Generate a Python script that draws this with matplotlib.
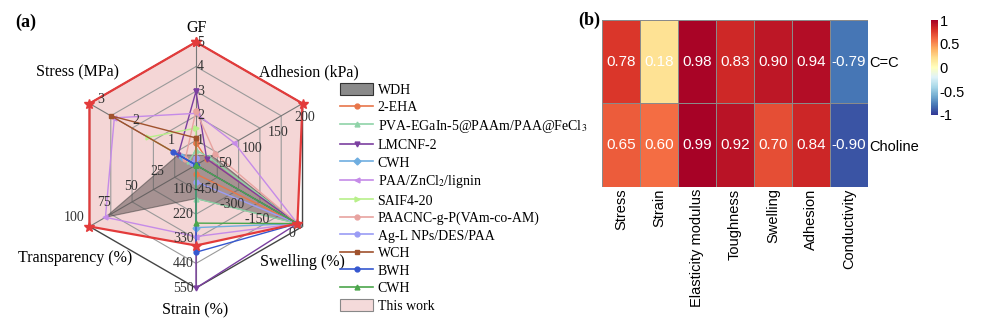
import numpy as np
import matplotlib.pyplot as plt
from matplotlib.patches import Patch
from matplotlib.lines import Line2D

plt.rcParams['mathtext.fontset'] = 'stix'
SERIF = 'Liberation Serif'
SANS = 'Liberation Sans'

# ---- radar data: GF, adhesion, swelling, strain, transparency, stress ----
axis_names = ['GF', 'Adhesion (kPa)', 'Swelling (%)', 'Strain (%)',
              'Transparency (%)', 'Stress (MPa)']
axis_angles = [90, 30, -30, -90, 210, 150]
axis_lo = [0, 0, -600, 0, 0, 0]
axis_hi = [5, 200, 30, 550, 100, 3]
axis_ticks = [[1, 2, 3, 4, 5], [50, 100, 150, 200], [-450, -300, -150, 0],
              [110, 220, 330, 440, 550], [25, 50, 75, 100], [1, 2, 3]]

wdh = [0.4, 30, 0, 150, 85, 0.5]
this_work = [5, 200, 0, 360, 100, 3]

samples = ['2-EHA', 'PVA-EGaIn-5@PAAm/PAA@FeCl$_3$', 'LMCNF-2', 'CWH',
           'PAA/ZnCl$_2$/lignin', 'SAIF4-20', 'PAACNC-g-P(VAm-co-AM)',
           'Ag-L NPs/DES/PAA', 'WCH', 'BWH', 'CWH']
sample_values = [
    [0.9, 20, 0, 40, 0, 0],
    [0.6, 25, 0, 150, 0, 0.2],
    [3.0, 20, 0, 550, 0, 0.5],
    [0, 0, 0, 280, 0, 0.4],
    [2.1, 72, 0, 320, 85, 2.3],
    [1.5, 0, 0, 0, 0, 1.35],
    [2.2, 36, 0, 0, 0, 0.3],
    [0.3, 0, 0, 75, 0, 0.1],
    [1.1, 0, 0, 0, 0, 2.4],
    [0, 0, 0, 390, 0, 0.64],
    [0, 0, 0, 260, 0, 0],
]
sample_colors = ['#E8764A', '#8FD3A8', '#7B3FA0', '#6FAEE0', '#C58BE8', '#B8F08A',
                 '#E8A3A0', '#9A9CF5', '#A0522D', '#3557D0', '#4CA64C']
sample_markers = ['o', '^', 'v', 'D', '<', '>', 'o', 'o', 's', 'o', '^']

# ---- heatmap data ----
hm_rows = ['C=C', 'Choline']
hm_cols = ['Stress', 'Strain', 'Elasticity modulus', 'Toughness', 'Swelling',
           'Adhesion', 'Conductivity']
corr = np.array([[0.78, 0.18, 0.98, 0.83, 0.90, 0.94, -0.79],
                 [0.65, 0.60, 0.99, 0.92, 0.70, 0.84, -0.90]])

W, H = 990, 328
fig = plt.figure(figsize=(W / 100, H / 100), dpi=100)

# ---------------- (a) radar ----------------
cx, cy, R = 196, 165, 123
ax = fig.add_axes([(cx - 150) / W, (H - cy - 150) / H, 300 / W, 300 / H])
lim = 150 / R
ax.set_xlim(-lim, lim)
ax.set_ylim(-lim, lim)
ax.axis('off')

ang = np.deg2rad(axis_angles)


def to_xy(vals):
    r = [(v - lo) / (hi - lo) for v, lo, hi in zip(vals, axis_lo, axis_hi)]
    x = [ri * np.cos(a) for ri, a in zip(r, ang)]
    y = [ri * np.sin(a) for ri, a in zip(r, ang)]
    return x + x[:1], y + y[:1]


def px(x, y):
    return (x - cx) / R, (cy - y) / R


# this work fill at the bottom
tx, ty = to_xy(this_work)
ax.fill(tx, ty, color='#F4D6D6', zorder=1, lw=0)

# grid rings and spokes
for f in [0.2, 0.4, 0.6, 0.8]:
    ax.plot(list(f * np.cos(ang)) + [f * np.cos(ang[0])],
            list(f * np.sin(ang)) + [f * np.sin(ang[0])],
            color='#9a9a9a', lw=0.8, zorder=2)
ax.plot(list(np.cos(ang)) + [np.cos(ang[0])], list(np.sin(ang)) + [np.sin(ang[0])],
        color='#444444', lw=1.0, zorder=2)
for a in ang:
    ax.plot([0, np.cos(a)], [0, np.sin(a)], color='#777777', lw=0.8, zorder=2)

# WDH area
wx, wy = to_xy(wdh)
ax.fill(wx, wy, facecolor='#5a5050', alpha=0.5, edgecolor='#3a3a3a', lw=0.8, zorder=3)

for vals, c, m in zip(sample_values, sample_colors, sample_markers):
    sx, sy = to_xy(vals)
    ax.plot(sx, sy, color=c, lw=1.0, marker=m, ms=3.5, zorder=4)

ax.plot(tx, ty, color='#E33B3B', lw=1.6, marker='*', ms=7, zorder=5)

# tick labels on each axis
tick_style = dict(fontsize=10, family=SERIF, color='#333333', zorder=6)
for i, ticks in enumerate(axis_ticks):
    a = ang[i]
    for t in ticks:
        r = (t - axis_lo[i]) / (axis_hi[i] - axis_lo[i])
        x, y = r * np.cos(a), r * np.sin(a)
        if i == 0:
            ax.text(x + 0.01, y, str(t), ha='left', va='center', **tick_style)
        elif i == 1:
            ax.text(x + 0.02, y - 0.06, str(t), ha='center', va='top', **tick_style)
        elif i == 2:
            ax.text(x - 0.02, y - 0.03, str(t), ha='right', va='top', **tick_style)
        elif i == 3:
            ax.text(x - 0.02, y, str(t), ha='right', va='center', **tick_style)
        elif i == 4:
            ax.text(x - 0.04, y + 0.02, str(t), ha='right', va='bottom', **tick_style)
        else:
            ax.text(x + 0.09, y + 0.03, str(t), ha='center', va='center', **tick_style)

title_pos = [(197, 28), (309, 72), (302, 262), (195, 310), (75, 258), (78, 72)]
for name, (x, y) in zip(axis_names, title_pos):
    ax.text(*px(x, y), name, ha='center', va='center', fontsize=11.5,
            family=SERIF, color='black')

fig.text(15 / W, 1 - 22 / H, '(a)', fontsize=13, fontweight='bold', family=SERIF,
         va='center', ha='left')

# legend
handles = [Patch(facecolor='#8a8a8a', edgecolor='#333333', lw=0.8)]
for c, m in zip(sample_colors, sample_markers):
    handles.append(Line2D([], [], color=c, lw=1.2, marker=m, ms=3.5))
handles.append(Patch(facecolor='#F4DADA', edgecolor='#888888', lw=0.8))
labels = ['WDH'] + samples + ['This work']
fig.legend(handles, labels, loc='upper left', bbox_to_anchor=(340 / W, 1 - 83 / H),
           frameon=False, prop={'family': SERIF, 'size': 10}, handlelength=2.4,
           handleheight=1.0, handletextpad=0.3, labelspacing=0.25, borderpad=0,
           borderaxespad=0)

# ---------------- (b) heatmap ----------------
hx0, hx1, hy0, hy1 = 602, 868, 20, 187
hax = fig.add_axes([hx0 / W, 1 - hy1 / H, (hx1 - hx0) / W, (hy1 - hy0) / H])
mesh = hax.pcolormesh(corr, cmap='RdYlBu_r', vmin=-1, vmax=1,
                      edgecolors='#8a8a8a', linewidth=0.5)
hax.set_xlim(0, len(hm_cols))
hax.set_ylim(len(hm_rows), 0)
for i in range(len(hm_rows)):
    for j in range(len(hm_cols)):
        hax.text(j + 0.5, i + 0.5, f'{corr[i, j]:.2f}', ha='center', va='center',
                 color='white', fontsize=11, family=SANS)
hax.set_xticks(np.arange(len(hm_cols)) + 0.5)
hax.set_xticklabels(hm_cols, rotation=90, fontsize=10.5, family=SANS)
hax.set_yticks(np.arange(len(hm_rows)) + 0.5)
hax.set_yticklabels(hm_rows, fontsize=10.5, family=SANS)
hax.yaxis.tick_right()
hax.tick_params(length=0, pad=1)
for s in hax.spines.values():
    s.set_visible(False)

cax = fig.add_axes([931 / W, 1 - 115 / H, 7 / W, 95 / H])
cb = fig.colorbar(mesh, cax=cax, ticks=[-1, -0.5, 0, 0.5, 1])
cb.ax.set_yticklabels(['-1', '-0.5', '0', '0.5', '1'], fontsize=10.5, family=SANS)
cb.ax.tick_params(length=0, pad=1)
cb.outline.set_visible(False)

fig.text(578 / W, 1 - 20 / H, '(b)', fontsize=13, fontweight='bold', family=SERIF,
         va='center', ha='left')

fig.savefig('out.png', dpi=100)
